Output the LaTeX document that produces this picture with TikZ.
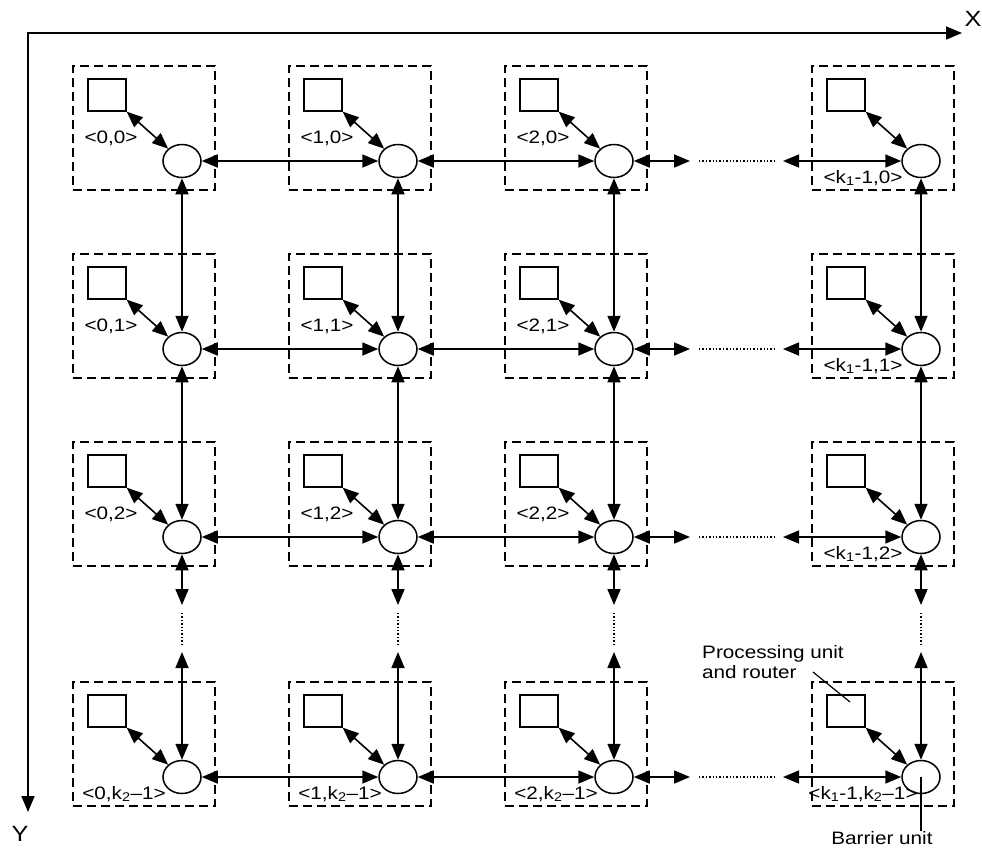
\documentclass[tikz,border=0pt]{standalone}
\usepackage{fontspec}
\setmainfont{Liberation Sans}[FakeStretch=1.15]
\usetikzlibrary{arrows.meta,shapes.geometric}
\tikzset{
  cell/.style={draw,dash pattern=on 9pt off 5pt,line width=1.4pt,
    minimum width=142pt,minimum height=124pt,inner sep=0pt},
  pu/.style={draw,line width=1.3pt,minimum width=38pt,minimum height=32pt,inner sep=0pt},
  bu/.style={draw,ellipse,line width=1.5pt,minimum width=38pt,minimum height=33pt,inner sep=0pt},
  link/.style={{Triangle[length=16pt,width=13pt]}-{Triangle[length=16pt,width=13pt]},line width=1.6pt},
  gap/.style={dotted,line width=1.4pt},
  lead/.style={line width=1.2pt},
  lbl/.style={font=\fontsize{18}{20}\selectfont,inner sep=0pt},
  axlbl/.style={font=\fontsize{22}{24}\selectfont,inner sep=0pt}
}
\begin{document}
\begin{tikzpicture}[x=1pt,y=-1pt]
\useasboundingbox (0,0) rectangle (982,849);

\coordinate (o) at (28,33);
\coordinate (xend) at (962,33);
\coordinate (yend) at (28,812);
\draw[link] (xend) -- (o) -- (yend);
\node[axlbl] (xlab) at (973,19) {X};
\node[axlbl] (ylab) at (20,834) {Y};

\foreach \col/\x/\cn in {0/182/0,1/398/1,2/614/2,3/921/{k\textsubscript{1}-1}}
  \foreach \row/\y/\rn in {0/161/0,1/349/1,2/537/2,3/777/{k\textsubscript{2}–1}}{
    \node[cell] (box\col\row) at (\x-38,\y-33) {};
    \node[pu] (pu\col\row) at (\x-75,\y-66) {};
    \node[bu] (bu\col\row) at (\x,\y) {};
    \draw[link] (pu\col\row.south east) -- (bu\col\row);
    \pgfmathsetmacro\lx{(\col==3||\row==3) ? -58 : -71}
    \pgfmathsetmacro\ly{(\col==3||\row==3) ? 17 : -23}
    \node[lbl] (lab\col\row) at ({\x+(\lx)},{\y+(\ly)}) {<\cn,\rn>};
  }

\foreach \row/\y in {0/161,1/349,2/537,3/777}{
  \draw[link] (bu0\row) -- (bu1\row);
  \draw[link] (bu1\row) -- (bu2\row);
  \coordinate (ha\row) at (690,\y);
  \coordinate (hb\row) at (699,\y);
  \coordinate (hc\row) at (776,\y);
  \coordinate (hd\row) at (783,\y);
  \draw[link] (bu2\row) -- (ha\row);
  \draw[gap] (hb\row) -- (hc\row);
  \draw[link] (hd\row) -- (bu3\row);
}

\foreach \col/\x in {0/182,1/398,2/614,3/921}{
  \draw[link] (bu\col0) -- (bu\col1);
  \draw[link] (bu\col1) -- (bu\col2);
  \coordinate (va\col) at (\x,605);
  \coordinate (vb\col) at (\x,613);
  \coordinate (vc\col) at (\x,645);
  \coordinate (vd\col) at (\x,652);
  \draw[link] (bu\col2) -- (va\col);
  \draw[gap] (vb\col) -- (vc\col);
  \draw[link] (vd\col) -- (bu\col3);
}

\node[lbl,align=left,anchor=north west] (putext) at (702,645) {Processing unit\\and router};
\coordinate (pulead) at (813,672);
\draw[lead] (pulead) -- ([shift={(4,-9)}]pu33.center);
\node[lbl] (butext) at (882,838) {Barrier unit};
\draw[lead] (bu33.center) -- (bu33.center |- butext.north);
\end{tikzpicture}
\end{document}
